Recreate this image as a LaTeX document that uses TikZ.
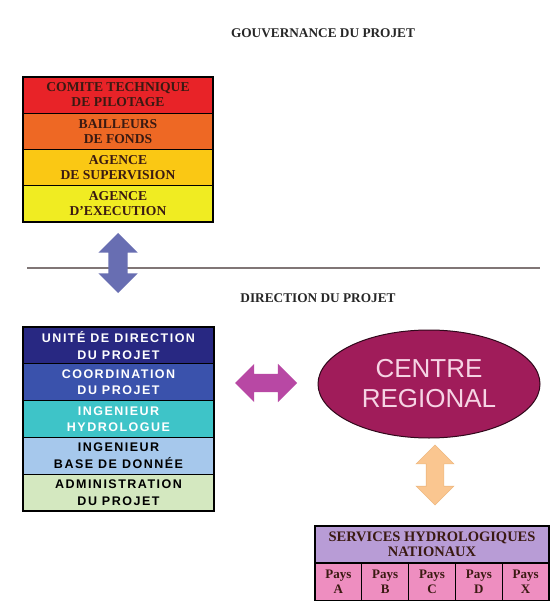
\documentclass[tikz,border=0pt]{standalone}
\usepackage{fontspec}
\setmainfont{Liberation Serif}
\newfontfamily\arialfont{Liberation Sans}
\newfontfamily\arialspaced[LetterSpace=12]{Liberation Sans}
\usepackage{xcolor}
\usetikzlibrary{positioning,shapes.geometric,shapes.arrows}

\definecolor{comite}{RGB}{232,35,40}
\definecolor{bailleurs}{RGB}{238,104,36}
\definecolor{supervision}{RGB}{250,200,20}
\definecolor{execution}{RGB}{240,236,34}
\definecolor{gouvtext}{RGB}{58,26,18}
\definecolor{unite}{RGB}{40,40,130}
\definecolor{coordination}{RGB}{58,82,172}
\definecolor{hydro}{RGB}{62,196,200}
\definecolor{basedonnee}{RGB}{166,200,236}
\definecolor{admin}{RGB}{212,232,192}
\definecolor{centre}{RGB}{160,28,90}
\definecolor{centretext}{RGB}{246,212,228}
\definecolor{services}{RGB}{184,156,214}
\definecolor{pays}{RGB}{238,142,192}
\definecolor{arrowblue}{RGB}{104,110,178}
\definecolor{arrowmag}{RGB}{184,72,164}
\definecolor{arrowpeach}{RGB}{250,198,144}
\definecolor{sepline}{RGB}{128,118,118}

\tikzset{
  gouvbox/.style={draw=black, line width=1.2pt, outer sep=0pt, inner sep=0pt,
    minimum width=190pt, minimum height=36.25pt, align=center, text=gouvtext,
    font=\fontsize{13.6}{15}\selectfont\bfseries},
  dirbox/.style={draw=black, line width=1.2pt, outer sep=0pt, inner sep=0pt,
    minimum width=191pt, minimum height=36.8pt, align=center,
    font=\arialspaced\fontsize{12.5}{16.5}\selectfont\bfseries},
  paysbox/.style={draw=black, line width=1.2pt, outer sep=0pt, inner sep=0pt,
    minimum width=46.8pt, minimum height=38pt, align=center, fill=pays, text=gouvtext,
    font=\fontsize{13}{15}\selectfont\bfseries},
  titre/.style={font=\fontsize{13.3}{15}\selectfont\bfseries, text=black!85},
  fleche/.style={double arrow, inner xsep=0pt, double arrow head extend=10pt}
}

\begin{document}
\begin{tikzpicture}[x=1pt,y=-1pt]
\useasboundingbox[fill=white] (0,0) rectangle (552,601);

% gouvernance
\node[titre] (gouvtitre) at (323,33) {GOUVERNANCE DU PROJET};
\node[gouvbox, fill=comite] (comite) at (118,95) {COMITE TECHNIQUE\\DE PILOTAGE};
\node[gouvbox, fill=bailleurs, below=0pt of comite] (bailleurs) {BAILLEURS\\DE FONDS};
\node[gouvbox, fill=supervision, below=0pt of bailleurs] (supervision) {AGENCE\\DE SUPERVISION};
\node[gouvbox, fill=execution, below=0pt of supervision] (execution) {AGENCE\\D'EXECUTION};
\draw[line width=2pt] (comite.north west) rectangle (execution.south east);

% separation
\coordinate (sepgauche) at (27,268);
\coordinate (sepdroite) at (540,268);
\draw[line width=2.5pt, sepline] (sepgauche) -- (sepdroite);
\node[fleche, rotate=90, fill=arrowblue, inner ysep=9.5pt, minimum height=60pt, minimum width=39pt] (liengouv) at (118,263) {};

% direction
\node[titre] (dirtitre) at (318,298) {DIRECTION DU PROJET};
\node[dirbox, fill=unite, text=white] (unite) at (118.5,345.4) {UNITÉ DE DIRECTION\\DU PROJET};
\node[dirbox, fill=coordination, text=white, below=0pt of unite] (coordination) {COORDINATION\\DU PROJET};
\node[dirbox, fill=hydro, text=white, below=0pt of coordination] (hydro) {INGENIEUR\\HYDROLOGUE};
\node[dirbox, fill=basedonnee, text=black, below=0pt of hydro] (basedonnee) {INGENIEUR\\BASE DE DONNÉE};
\node[dirbox, fill=admin, text=black, below=0pt of basedonnee] (admin) {ADMINISTRATION\\DU PROJET};
\draw[line width=2pt] (unite.north west) rectangle (admin.south east);

\node[fleche, fill=arrowmag, inner ysep=9pt, minimum height=62pt, minimum width=38pt] (liencentre) at (266,383) {};

\node[ellipse, draw=black!70!centre, line width=1pt, fill=centre, minimum width=222pt,
  minimum height=108pt, inner sep=0pt, align=center, text=centretext,
  font=\arialfont\fontsize{26}{30}\selectfont] (centre) at (429,384) {CENTRE\\REGIONAL};

\node[fleche, rotate=90, fill=arrowpeach, draw=arrowpeach!80!brown, line width=0.6pt,
  inner ysep=8.5pt, minimum height=60pt, minimum width=37pt] (lienservices) at (435,475) {};

% services nationaux
\node[draw=black, line width=1.2pt, fill=services, outer sep=0pt, inner sep=0pt,
  minimum width=234pt, minimum height=37pt, align=center, text=gouvtext,
  font=\fontsize{14.5}{15}\selectfont\bfseries] (services) at (432,544.5) {SERVICES HYDROLOGIQUES\\NATIONAUX};
\foreach \p [count=\i] in {A,B,C,D,X}
  \node[paysbox, anchor=north west] (pays\p) at ([xshift={(\i-1)*46.8}]services.south west) {Pays\\\p};
\end{tikzpicture}
\end{document}
